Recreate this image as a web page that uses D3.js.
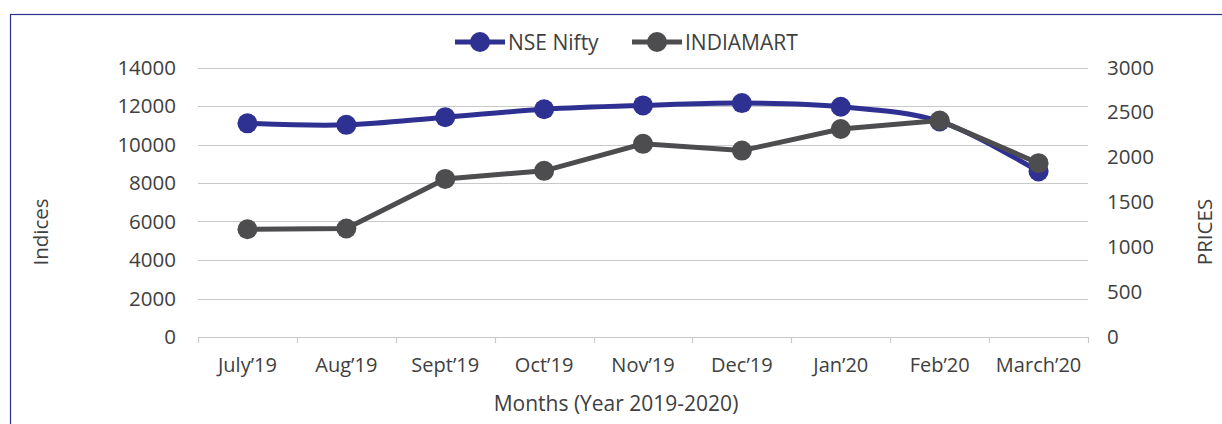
<!DOCTYPE html>
<html><head><meta charset="utf-8">
<script src="https://cdn.jsdelivr.net/npm/d3@7"></script>
<style>body{margin:0;background:#fff}svg{display:block}text{font-family:"Open Sans",sans-serif;fill:#404040}</style>
</head><body>
<script>
const months = ["July’19","Aug’19","Sept’19","Oct’19","Nov’19","Dec’19","Jan’20","Feb’20","March’20"];
const nifty = [11100, 11020, 11420, 11830, 12030, 12150, 11960, 11200, 8600];
const indiamart = [1200, 1208, 1760, 1850, 2150, 2075, 2315, 2410, 1935];
const leftTicks = [0,2000,4000,6000,8000,10000,12000,14000];
const rightTicks = [0,500,1000,1500,2000,2500,3000];

const W=1222,H=424;
const svg=d3.select("body").append("svg").attr("width",W).attr("height",H);
svg.append("rect").attr("x",10.5).attr("y",14.5).attr("width",1230).attr("height",430)
  .attr("fill","none").attr("stroke","#2E3192").attr("stroke-width",1.2);

const L=198,R=1088,T=67.5,B=337;
const x=d3.scaleBand().domain(months).range([L,R]);
const yL=d3.scaleLinear().domain([0,14000]).range([B,T]);
const yR=d3.scaleLinear().domain([0,3000]).range([B,T]);

svg.append("g").selectAll("line").data(leftTicks.filter(d=>d>0)).join("line")
  .attr("x1",L).attr("x2",R).attr("y1",d=>Math.round(yL(d))+0.5).attr("y2",d=>Math.round(yL(d))+0.5)
  .attr("stroke","#c9c9c9").attr("stroke-width",1.2);

const xa=svg.append("g").attr("transform",`translate(0,${B})`).call(d3.axisBottom(x).tickSize(0).tickPadding(21));
xa.select(".domain").attr("stroke","#c9c9c9").attr("stroke-width",1.2);
xa.selectAll("text").attr("font-size",20).style("font-family","'Open Sans',sans-serif").attr("fill","#404040");
const bounds=[L,...months.map(m=>x(m)+x.bandwidth())];
svg.append("g").selectAll("line").data(bounds).join("line")
  .attr("x1",d=>Math.round(d)+0.5).attr("x2",d=>Math.round(d)+0.5).attr("y1",B).attr("y2",B+6)
  .attr("stroke","#c9c9c9").attr("stroke-width",1.2);

const la=svg.append("g").attr("transform",`translate(${L},0)`).call(d3.axisLeft(yL).tickValues(leftTicks).tickSize(0).tickPadding(22).tickFormat(d3.format("d")));
la.select(".domain").remove();
la.selectAll("text").attr("font-size",20.5).style("font-family","'Open Sans',sans-serif").attr("fill","#404040");
const ra=svg.append("g").attr("transform",`translate(${R},0)`).call(d3.axisRight(yR).tickValues(rightTicks).tickSize(0).tickPadding(19).tickFormat(d3.format("d")));
ra.select(".domain").remove();
ra.selectAll("text").attr("font-size",20.5).style("font-family","'Open Sans',sans-serif").attr("fill","#404040");

svg.append("text").attr("transform","translate(48,232) rotate(-90)").attr("text-anchor","middle").attr("font-size",20.5).text("Indices");
svg.append("text").attr("transform","translate(1212,232) rotate(-90)").attr("text-anchor","middle").attr("font-size",20.5).text("PRICES");
svg.append("text").attr("x",616).attr("y",411).attr("text-anchor","middle").attr("font-size",21).text("Months (Year 2019-2020)");

const cx=m=>x(m)+x.bandwidth()/2;
const series=[
  {name:"NSE Nifty",vals:nifty,y:yL,color:"#2E3192",curve:d3.curveCatmullRom.alpha(0.5)},
  {name:"INDIAMART",vals:indiamart,y:yR,color:"#4D4D4F",curve:d3.curveLinear}
];
series.forEach(s=>{
  const line=d3.line().x((d,i)=>cx(months[i])).y(d=>s.y(d)).curve(s.curve);
  svg.append("path").datum(s.vals).attr("d",line).attr("fill","none").attr("stroke",s.color).attr("stroke-width",5);
  svg.append("g").selectAll("circle").data(s.vals).join("circle")
    .attr("cx",(d,i)=>cx(months[i])).attr("cy",d=>s.y(d)).attr("r",10).attr("fill",s.color);
});

const leg=[{name:"NSE Nifty",color:"#2E3192",x0:455},{name:"INDIAMART",color:"#4D4D4F",x0:632}];
leg.forEach(l=>{
  svg.append("line").attr("x1",l.x0).attr("x2",l.x0+50).attr("y1",42).attr("y2",42).attr("stroke",l.color).attr("stroke-width",5);
  svg.append("circle").attr("cx",l.x0+25).attr("cy",42).attr("r",10).attr("fill",l.color);
  svg.append("text").attr("x",l.x0+53).attr("y",50).attr("font-size",21).text(l.name);
});
</script>
</body></html>
